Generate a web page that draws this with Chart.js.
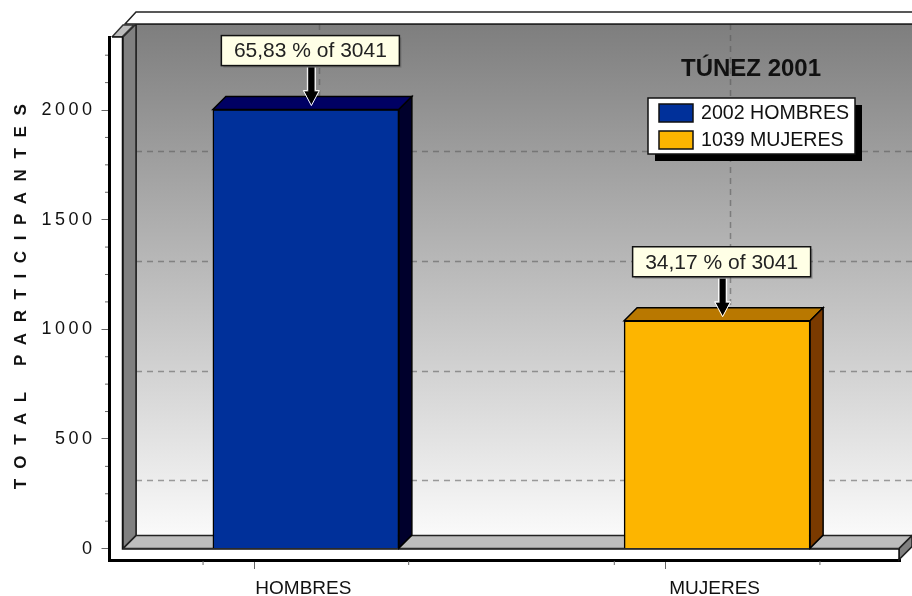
<!DOCTYPE html>
<html>
<head>
<meta charset="utf-8">
<title>TÚNEZ 2001</title>
<script src="https://cdn.jsdelivr.net/npm/chart.js@4"></script>
<style>
  html, body { margin: 0; padding: 0; background: #fff; }
  canvas { display: block; }
</style>
</head>
<body>
<canvas id="chart" width="912" height="596"></canvas>
<script>
const categories = ['HOMBRES', 'MUJERES'];
const values = [2002, 1039];
const calloutLabels = ['65,83 % of 3041', '34,17 % of 3041'];
const chartTitle = 'TÚNEZ 2001';
const yAxisTitle = 'TOTAL PARTICIPANTES';
const yTicks = [0, 125, 250, 375, 500, 625, 750, 875, 1000, 1125, 1250, 1375, 1500, 1625, 1750, 1875, 2000, 2125, 2250];
const yGridValues = [250, 750, 1250, 1750];
const xTicks = [0.75, 1, 1.25, 1.75, 2, 2.25];
const xGridValues = [1, 2];

const frontColors = ['#00309a', '#fdb500'];
const topColors = ['#000063', '#b97800'];
const sideColors = ['#00002c', '#7a3a00'];

const DEPTH = 13;
const FONT = '"Liberation Sans", Arial, sans-serif';

function poly(ctx, pts, fill, stroke) {
  ctx.beginPath();
  pts.forEach((p, i) => i ? ctx.lineTo(p[0], p[1]) : ctx.moveTo(p[0], p[1]));
  ctx.closePath();
  if (fill) { ctx.fillStyle = fill; ctx.fill(); }
  if (stroke) { ctx.strokeStyle = stroke; ctx.lineWidth = 1.5; ctx.stroke(); }
}

// walls, floor and dashed grid of the fake 3D box, behind the bars
const boxPlugin = {
  id: 'box',
  beforeDatasetsDraw(chart) {
    const { ctx, scales: { x, y } } = chart;
    const zero = y.getPixelForValue(0);
    const left = 123, right = 899, top = 37, edge = 912;
    ctx.save();

    const grad = ctx.createLinearGradient(0, top - DEPTH, 0, zero - DEPTH);
    grad.addColorStop(0, '#7e7e7e');
    grad.addColorStop(1, '#fafafa');
    poly(ctx, [[left + DEPTH, top - DEPTH], [edge, top - DEPTH], [edge, zero - DEPTH], [left + DEPTH, zero - DEPTH]], grad);

    ctx.strokeStyle = 'rgba(85,85,85,0.55)';
    ctx.lineWidth = 1.5;
    ctx.setLineDash([6, 5]);
    yGridValues.forEach(v => {
      const py = Math.round(y.getPixelForValue(v) - DEPTH - 0.6) + 0.5;
      ctx.beginPath(); ctx.moveTo(left + DEPTH, py); ctx.lineTo(edge, py); ctx.stroke();
    });
    xGridValues.forEach(v => {
      const px = Math.round(x.getPixelForValue(v) + DEPTH) + 0.5;
      ctx.beginPath(); ctx.moveTo(px, top - DEPTH); ctx.lineTo(px, zero - DEPTH); ctx.stroke();
    });
    ctx.setLineDash([]);

    // back wall outline
    ctx.strokeStyle = '#222';
    ctx.lineWidth = 1.5;
    ctx.beginPath();
    ctx.moveTo(left + DEPTH, zero - DEPTH); ctx.lineTo(left + DEPTH, top - DEPTH); ctx.lineTo(edge, top - DEPTH);
    ctx.stroke();

    // left wall, top rim, floor, right end
    poly(ctx, [[left, top], [left + DEPTH, top - DEPTH], [left + DEPTH, zero - DEPTH], [left, zero]], '#808080', '#222');
    poly(ctx, [[left + 2, top - 13], [left + DEPTH, top - 25], [edge + 2, top - 25], [edge + 2, top - 13]], '#fff', '#222');
    poly(ctx, [[112, top], [left - 1, top], [left + 11, top - 12], [left, top - 12]], '#bdbdbd', '#333');
    poly(ctx, [[left, zero], [left + DEPTH, zero - DEPTH], [edge, zero - DEPTH], [right, zero]], '#bdbdbd', '#222');
    poly(ctx, [[right, zero], [edge, zero - DEPTH], [edge, zero - 2], [right, zero + 11]], '#808080', '#222');

    // white front rim
    ctx.fillStyle = '#fff';
    ctx.fillRect(111, top, left - 111, zero - top + 10);
    ctx.fillRect(111, zero, right - 111, 10);
    ctx.strokeStyle = '#111';
    ctx.beginPath();
    ctx.moveTo(left - 0.5, top); ctx.lineTo(left - 0.5, zero + 0.5); ctx.lineTo(right, zero + 0.5); ctx.lineTo(right, zero + 11);
    ctx.moveTo(112, top); ctx.lineTo(left, top);
    ctx.stroke();

    // minor tick marks
    ctx.strokeStyle = '#666';
    ctx.lineWidth = 1;
    y.ticks.forEach(t => {
      if (t.value % 500 === 0) return;
      const py = y.getPixelForValue(t.value);
      ctx.beginPath(); ctx.moveTo(105, py); ctx.lineTo(108, py); ctx.stroke();
    });
    x.ticks.forEach(t => {
      if (Number.isInteger(t.value)) return;
      const px = x.getPixelForValue(t.value);
      ctx.beginPath(); ctx.moveTo(px, 561); ctx.lineTo(px, 565); ctx.stroke();
    });
    ctx.restore();
  },

  // top and side faces of the bars, callouts, title and legend go in front
  afterDatasetsDraw(chart) {
    const { ctx } = chart;
    const bars = chart.getDatasetMeta(0).data;
    ctx.save();
    bars.forEach((bar, i) => {
      const l = bar.x - bar.width / 2, r = bar.x + bar.width / 2;
      poly(ctx, [[l, bar.y], [l + DEPTH, bar.y - DEPTH], [r + DEPTH, bar.y - DEPTH], [r, bar.y]], topColors[i], '#000');
      poly(ctx, [[r, bar.y], [r + DEPTH, bar.y - DEPTH], [r + DEPTH, bar.base - DEPTH], [r, bar.base]], sideColors[i], '#000');
    });

    bars.forEach((bar, i) => {
      const cx = bar.x + 4.5, boxTop = bar.y - 74, w = 178, h = 30;
      ctx.fillStyle = 'rgba(70,70,70,0.35)';
      ctx.fillRect(cx - w / 2 + 2, boxTop + 2, w, h);
      ctx.fillStyle = '#ffffe6';
      ctx.strokeStyle = '#111';
      ctx.lineWidth = 1.5;
      ctx.fillRect(cx - w / 2, boxTop, w, h);
      ctx.strokeRect(cx - w / 2, boxTop, w, h);
      ctx.fillStyle = '#222';
      ctx.font = '21px ' + FONT;
      ctx.textAlign = 'center';
      ctx.textBaseline = 'middle';
      ctx.fillText(calloutLabels[i], cx, boxTop + h / 2 + 1);

      const ax = cx + 1, s = boxTop + 32, tip = bar.y - 5;
      const arrow = [[ax - 3, s], [ax + 3, s], [ax + 3, tip - 13], [ax + 7, tip - 13], [ax, tip], [ax - 7, tip - 13], [ax - 3, tip - 13]];
      ctx.lineJoin = 'miter';
      poly(ctx, arrow, '#000');
      ctx.strokeStyle = '#fff';
      ctx.lineWidth = 1;
      ctx.beginPath();
      ctx.moveTo(ax - 4, s); ctx.lineTo(ax - 4, tip - 14); ctx.lineTo(ax - 8, tip - 14); ctx.lineTo(ax, tip + 1);
      ctx.lineTo(ax + 8, tip - 14); ctx.lineTo(ax + 4, tip - 14); ctx.lineTo(ax + 4, s);
      ctx.stroke();
    });

    // title
    ctx.fillStyle = '#111';
    ctx.font = 'bold 24px ' + FONT;
    ctx.textAlign = 'left';
    ctx.textBaseline = 'middle';
    ctx.fillText(chartTitle, 681, 69);

    // legend box with hard shadow
    ctx.fillStyle = '#000';
    ctx.fillRect(655, 105, 207, 56);
    ctx.fillStyle = '#fff';
    ctx.fillRect(648, 98, 207, 56);
    ctx.strokeStyle = '#111';
    ctx.lineWidth = 1.5;
    ctx.strokeRect(648, 98, 207, 56);
    categories.forEach((c, i) => {
      const ly = 104 + i * 27;
      ctx.fillStyle = frontColors[i];
      ctx.fillRect(659, ly, 34, 18);
      ctx.strokeRect(659, ly, 34, 18);
      ctx.fillStyle = '#111';
      ctx.font = '19.6px ' + FONT;
      ctx.fillText(values[i] + ' ' + c, 701, ly + 10);
    });
    ctx.restore();
  }
};

new Chart(document.getElementById('chart'), {
  type: 'bar',
  data: {
    datasets: [{
      data: categories.map((c, i) => ({ x: i + 1, y: values[i] })),
      backgroundColor: frontColors,
      borderColor: '#000',
      borderWidth: 1.5,
      barThickness: 186
    }]
  },
  options: {
    responsive: false,
    animation: false,
    layout: { padding: { top: 37, right: 12 } },
    plugins: { legend: { display: false }, tooltip: { enabled: false } },
    scales: {
      x: {
        type: 'linear',
        offset: false,
        min: 0.5225,
        max: 2.4447,
        afterBuildTicks: s => { s.ticks = xTicks.map(v => ({ value: v })); },
        afterFit: s => { s.height = 36; },
        border: { color: '#000', width: 3 },
        grid: {
          drawOnChartArea: false,
          tickLength: 9,
          tickColor: c => c.tick && Number.isInteger(c.tick.value) ? '#666' : 'transparent'
        },
        ticks: {
          autoSkip: false,
          maxRotation: 0,
          padding: 8,
          labelOffset: -2.5,
          color: '#111',
          font: { family: FONT, size: 19 },
          callback: v => Number.isInteger(v) ? categories[v - 1] : ''
        }
      },
      y: {
        min: -52,
        max: 2333,
        afterBuildTicks: s => { s.ticks = yTicks.map(v => ({ value: v })); },
        afterFit: s => { s.width = 109.5; },
        border: { color: '#000', width: 3 },
        grid: {
          drawOnChartArea: false,
          tickLength: 8,
          tickColor: c => c.tick && c.tick.value % 500 === 0 ? '#666' : 'transparent'
        },
        ticks: {
          autoSkip: false,
          padding: 6,
          color: '#111',
          font: { family: FONT, size: 18 },
          callback: v => v % 500 === 0 ? String(v) : ''
        },
        title: {
          display: true,
          text: yAxisTitle,
          color: '#111',
          font: { family: FONT, size: 17, weight: 'bold' },
          padding: { top: 11, bottom: 0 }
        }
      }
    }
  },
  plugins: [boxPlugin, {
    // letter spaced text on the y axis only
    id: 'ySpacing',
    afterLayout(chart) {
      const y = chart.scales.y;
      const spaced = (name, px, shift) => {
        const draw = y[name];
        y[name] = function (...args) {
          chart.ctx.save();
          chart.ctx.letterSpacing = px;
          chart.ctx.translate(0, shift);
          draw.apply(this, args);
          chart.ctx.restore();
        };
      };
      if (!y.spacedText) {
        spaced('drawLabels', '3.5px', 0);
        spaced('drawTitle', '10.6px', -7);
        y.spacedText = true;
      }
    }
  }]
});
</script>
</body>
</html>
